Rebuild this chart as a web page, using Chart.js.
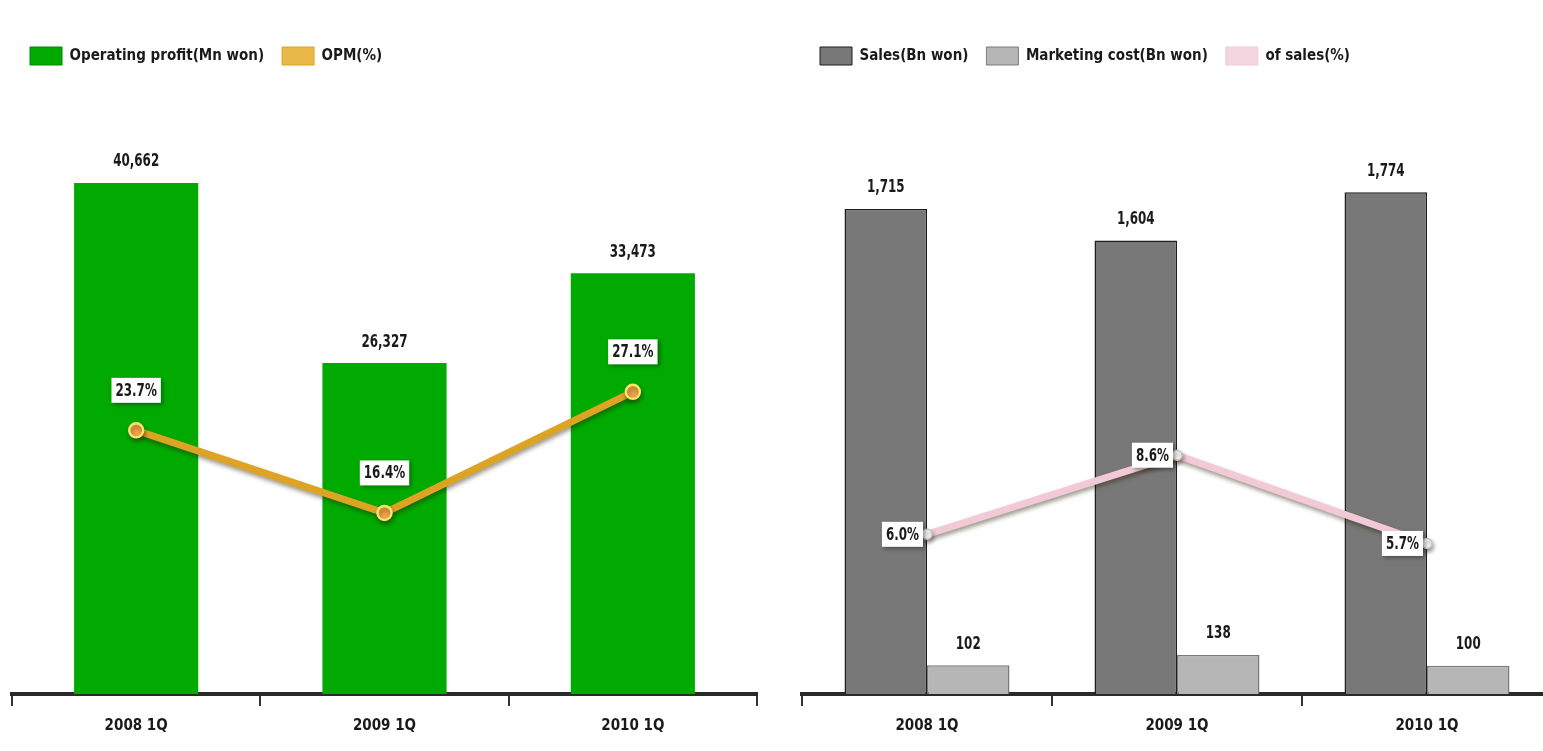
<!DOCTYPE html>
<html>
<head>
<meta charset="utf-8">
<script src="https://cdn.jsdelivr.net/npm/chart.js@4.4.0/dist/chart.umd.min.js"></script>
<style>
  html, body { margin: 0; padding: 0; background: #fff; overflow: hidden; width: 1543px; height: 751px; }
  #left { position: absolute; left: 0; top: 0; }
  #right { position: absolute; left: 790px; top: 0; }
</style>
</head>
<body>
<canvas id="left" width="775" height="751"></canvas>
<canvas id="right" width="780" height="751"></canvas>
<script>
// chart data
var QUARTERS = ["2008 1Q", "2009 1Q", "2010 1Q"];
var OP_PROFIT = [40662, 26327, 33473];
var OPM = [23.7, 16.4, 27.1];
var SALES = [1715, 1604, 1774];
var MKT_COST = [102, 138, 100];
var MKT_PCT = [6.0, 8.6, 5.7];

var FONT = '"Liberation Sans Narrow", "DejaVu Sans Condensed", "Arial Narrow", sans-serif';

// keep legend in dataset order, thin outline on line icons
function legendItems(chart) {
  var items = Chart.defaults.plugins.legend.labels.generateLabels(chart);
  items.forEach(function(it) { it.lineWidth = 1; });
  return items.sort(function(a, b) { return a.datasetIndex - b.datasetIndex; });
}

// drop shadow under the lines
var shadowPlugin = {
  id: 'lineShadow',
  beforeDatasetDraw: function(chart, args) {
    if (args.meta.type !== 'line') return;
    var ctx = chart.ctx;
    ctx.save();
    ctx.shadowColor = 'rgba(40,30,0,0.45)';
    ctx.shadowBlur = 4;
    ctx.shadowOffsetX = 1;
    ctx.shadowOffsetY = 3;
  },
  afterDatasetDraw: function(chart, args) {
    if (args.meta.type !== 'line') return;
    chart.ctx.restore();
  }
};

// squeezed text, the original uses a narrow face
function narrowText(ctx, txt, x, y) {
  ctx.save();
  ctx.translate(x, y);
  ctx.scale(0.78, 1);
  ctx.fillText(txt, 0, 0);
  ctx.restore();
}

// numbers over bars, boxed percents on lines
var labelPlugin = {
  id: 'valueLabels',
  afterDatasetsDraw: function(chart, args, opts) {
    var ctx = chart.ctx;
    ctx.save();
    ctx.font = 'bold 17px ' + FONT;
    ctx.textAlign = 'center';
    ctx.textBaseline = 'middle';
    chart.data.datasets.forEach(function(ds, i) {
      var meta = chart.getDatasetMeta(i);
      meta.data.forEach(function(el, j) {
        var v = ds.data[j];
        if (ds.type === 'line') {
          var txt = v.toFixed(1) + '%';
          var w = ctx.measureText(txt).width * 0.78 + 8, h = 25;
          var cx = el.x, cy = el.y;
          if (opts.pct === 'above') { cy = el.y - 40; } else { cx = el.x - 4 - w / 2; }
          ctx.shadowColor = 'rgba(0,0,0,0.35)';
          ctx.shadowBlur = 4;
          ctx.shadowOffsetX = 2;
          ctx.shadowOffsetY = 2;
          ctx.fillStyle = '#fff';
          ctx.fillRect(cx - w / 2, cy - h / 2, w, h);
          ctx.shadowColor = 'transparent';
          ctx.fillStyle = '#1a1a1a';
          narrowText(ctx, txt, cx, cy + 1);
        } else {
          ctx.fillStyle = '#1a1a1a';
          narrowText(ctx, v.toLocaleString('en-US'), el.x, el.y - 21);
        }
      });
    });
    ctx.restore();
  }
};

function baseOptions(yMax, pctMin, pctMax, pctPos) {
  return {
    responsive: false,
    animation: false,
    layout: { padding: { top: 29, left: 12, right: 18, bottom: 5 } },
    plugins: {
      legend: {
        align: 'start',
        labels: {
          boxWidth: 32, boxHeight: 18, padding: 18, color: '#1a1a1a',
          font: { family: FONT, size: 15, weight: 'bold' },
          generateLabels: legendItems
        }
      },
      tooltip: { enabled: false },
      valueLabels: { pct: pctPos }
    },
    scales: {
      x: {
        grid: { display: true, drawOnChartArea: false, tickLength: 12, color: '#333', lineWidth: 2 },
        border: { display: true, color: '#2a2a2a', width: 4 },
        ticks: { padding: 11, color: '#1a1a1a', font: { family: FONT, size: 15, weight: 'bold' } }
      },
      y: { display: false, min: 0, max: yMax },
      y1: { display: false, min: pctMin, max: pctMax }
    }
  };
}

new Chart(document.getElementById('left'), {
  type: 'bar',
  data: {
    labels: QUARTERS,
    datasets: [{
      label: 'Operating profit(Mn won)',
      data: OP_PROFIT,
      backgroundColor: '#00AA00',
      borderColor: '#008c00',
      borderWidth: 0,
      categoryPercentage: 0.5,
      barPercentage: 1.0,
      yAxisID: 'y',
      order: 1
    }, {
      type: 'line',
      label: 'OPM(%)',
      data: OPM,
      borderColor: '#DDA423',
      backgroundColor: '#E8B848',
      borderWidth: 7,
      pointRadius: 7,
      pointBackgroundColor: '#F3A24A',
      pointBorderColor: '#F6E36A',
      pointBorderWidth: 2.5,
      yAxisID: 'y1',
      order: 0
    }]
  },
  options: baseOptions(49250, 0.4, 55.1, 'above'),
  plugins: [shadowPlugin, labelPlugin]
});

new Chart(document.getElementById('right'), {
  type: 'bar',
  data: {
    labels: QUARTERS,
    datasets: [{
      label: 'Sales(Bn won)',
      data: SALES,
      backgroundColor: '#787878',
      borderColor: '#1e1e1e',
      borderWidth: 1.5,
      categoryPercentage: 0.66,
      barPercentage: 1.0,
      yAxisID: 'y',
      order: 1
    }, {
      label: 'Marketing cost(Bn won)',
      data: MKT_COST,
      backgroundColor: '#B6B6B6',
      borderColor: '#7a7a7a',
      borderWidth: 1.5,
      categoryPercentage: 0.66,
      barPercentage: 1.0,
      yAxisID: 'y',
      order: 2
    }, {
      type: 'line',
      label: 'of sales(%)',
      data: MKT_PCT,
      borderColor: '#F1C9D7',
      backgroundColor: '#F3D6E0',
      borderWidth: 7,
      pointRadius: 5,
      pointBackgroundColor: '#ffffff',
      pointBorderColor: '#c8c8c8',
      pointBorderWidth: 1.5,
      yAxisID: 'y1',
      order: 0
    }]
  },
  options: baseOptions(2189, 0.75, 21.1, 'left'),
  plugins: [shadowPlugin, labelPlugin]
});
</script>
</body>
</html>
